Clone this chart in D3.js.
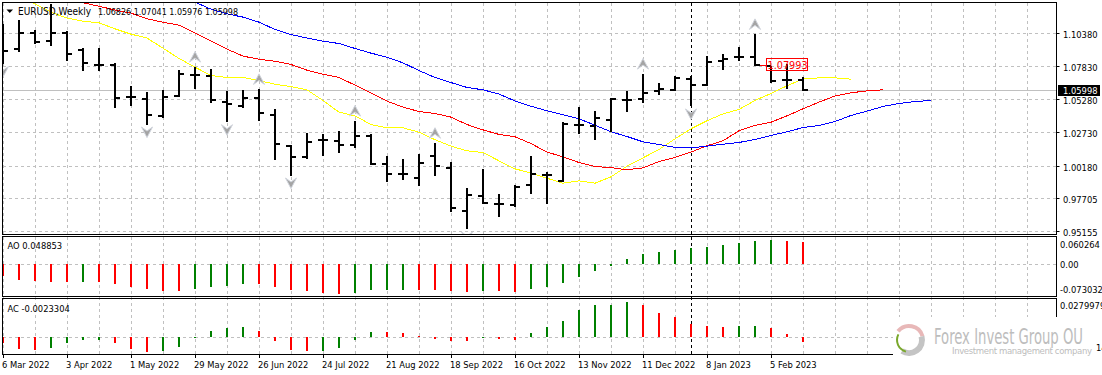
<!DOCTYPE html>
<html>
<head>
<meta charset="utf-8">
<script src="https://cdn.jsdelivr.net/npm/d3@7"></script>
<style>
	html, body { margin:0; padding:0; background:#fff; overflow:hidden; }
	svg { display:block; }
	text { font-family:"DejaVu Sans Condensed", "Liberation Sans", sans-serif; font-size:9.3px; fill:#000; }
</style>
</head>
<body>
<div id="chart"></div>
<script>

const open_ = [1.0984,1.0920,1.1043,1.0984,1.1043,1.0912,1.0794,1.0794,1.0553,1.0535,1.0405,1.0558,1.0720,1.0712,1.0510,1.0477,1.0541,1.0410,1.0175,1.0085,1.0218,1.0213,1.0180,1.0252,1.0034,0.9961,0.9925,1.0095,1.0002,0.9672,0.9787,0.9726,0.9723,0.9872,0.9949,0.9900,1.0331,1.0326,1.0374,1.0523,1.0533,1.0594,1.0607,1.0689,1.0641,1.0825,1.0858,1.0858,1.0786,1.0684,1.0683];
const high = [1.1113,1.1138,1.1066,1.1266,1.1054,1.0927,1.0927,1.0812,1.0638,1.0592,1.0605,1.0758,1.0784,1.0766,1.0597,1.0605,1.0612,1.0459,1.0182,1.0274,1.0262,1.0290,1.0369,1.0267,1.0093,1.0075,1.0113,1.0198,1.0052,0.9851,0.9997,0.9805,0.9874,1.0093,0.9974,1.0356,1.0474,1.0444,1.0541,1.0594,1.0730,1.0656,1.0712,1.0712,1.0863,1.0881,1.0932,1.1035,1.0791,1.0804,1.0704];
const low = [1.0804,1.0894,1.0958,1.0940,1.0830,1.0748,1.0753,1.0464,1.0479,1.0338,1.0387,1.0548,1.0615,1.0505,1.0356,1.0464,1.0364,1.0062,0.9946,1.0070,1.0095,1.0118,1.0157,1.0029,0.9895,0.9910,0.9864,0.9941,0.9664,0.9531,0.9728,0.9626,0.9703,0.9802,0.9726,0.9895,1.0264,1.0221,1.0279,1.0438,1.0505,1.0564,1.0594,1.0477,1.0633,1.0756,1.0825,1.0786,1.0659,1.0610,1.0598];
const close_ = [1.0907,1.1043,1.0976,1.1043,1.0881,1.0809,1.0794,1.0541,1.0553,1.0410,1.0546,1.0728,1.0720,1.0525,1.0495,1.0541,1.0423,1.0185,1.0090,1.0200,1.0218,1.0182,1.0249,1.0034,0.9956,0.9961,1.0041,1.0018,0.9695,0.9795,0.9733,0.9726,0.9856,0.9959,0.9949,1.0341,1.0331,1.0387,1.0533,1.0523,1.0579,1.0610,1.0697,1.0641,1.0817,1.0840,1.0858,1.0794,1.0669,1.0684,1.0600];

// alligator lines, first value belongs to the bar index in *Start
const lipsStart = 1;
const lips = [1.1330,1.1266,1.1202,1.1156,1.1133,1.1120,1.1074,1.1033,1.1003,1.0925,1.0846,1.0779,1.0715,1.0700,1.0700,1.0676,1.0648,1.0630,1.0605,1.0523,1.0433,1.0405,1.0338,1.0313,1.0313,1.0279,1.0221,1.0172,1.0136,1.0123,1.0059,0.9997,0.9966,0.9925,0.9887,0.9905,0.9887,0.9936,1.0018,1.0082,1.0146,1.0228,1.0305,1.0367,1.0420,1.0454,1.0523,1.0577,1.0636,1.0689,1.0697,1.0697,1.0687];
const teethStart = 4;
const teeth = [1.1318,1.1274,1.1248,1.1218,1.1195,1.1151,1.1125,1.1102,1.1043,1.0979,1.0918,1.0864,1.0840,1.0825,1.0800,1.0756,1.0725,1.0700,1.0641,1.0579,1.0518,1.0472,1.0438,1.0423,1.0395,1.0338,1.0297,1.0262,1.0244,1.0192,1.0126,1.0090,1.0046,1.0015,1.0007,0.9990,1.0005,1.0054,1.0085,1.0126,1.0175,1.0213,1.0290,1.0331,1.0356,1.0405,1.0459,1.0510,1.0558,1.0582,1.0597,1.0605];
const jawStart = 12;
const jaw = [1.1279,1.1225,1.1189,1.1164,1.1125,1.1069,1.1030,1.1003,1.0979,1.0961,1.0923,1.0887,1.0856,1.0812,1.0753,1.0700,1.0661,1.0623,1.0605,1.0572,1.0520,1.0479,1.0444,1.0413,1.0382,1.0333,1.0282,1.0246,1.0205,1.0185,1.0162,1.0159,1.0172,1.0187,1.0200,1.0223,1.0254,1.0282,1.0315,1.0331,1.0361,1.0408,1.0441,1.0477,1.0500,1.0515,1.0523];

const fractalUp = [3,12,16,22,27,40,47];
const fractalDown = [0,9,14,18,29,43];

const aoValues = [-0.0351,-0.0458,-0.0488,-0.0517,-0.0517,-0.0517,-0.0517,-0.0575,-0.0663,-0.0722,-0.0780,-0.0780,-0.0722,-0.0663,-0.0634,-0.0575,-0.0575,-0.0663,-0.0751,-0.0780,-0.0839,-0.0868,-0.0839,-0.0751,-0.0751,-0.0751,-0.0751,-0.0751,-0.0780,-0.0809,-0.0780,-0.0780,-0.0809,-0.0722,-0.0663,-0.0546,-0.0371,-0.0195,-0.0049,0.0156,0.0302,0.0361,0.0419,0.0478,0.0507,0.0566,0.0624,0.0683,0.0712,0.0683,0.0653];
const aoUp = [0,0,0,0,0,1,0,0,0,0,0,0,1,1,1,1,0,0,0,0,0,0,1,1,1,1,0,0,0,0,1,0,0,1,1,1,1,1,1,1,1,1,1,1,1,1,1,1,1,0,0];

const acValues = [-0.0052,-0.0101,-0.0110,-0.0092,-0.0049,-0.0023,-0.0023,-0.0049,-0.0101,-0.0127,-0.0118,-0.0084,-0.0006,0.0055,0.0081,0.0089,0.0055,-0.0032,-0.0110,-0.0118,-0.0118,-0.0092,-0.0023,0.0046,0.0046,0.0038,0.0012,-0.0014,-0.0032,-0.0032,-0.0006,-0.0014,-0.0023,0.0038,0.0089,0.0141,0.0237,0.0280,0.0280,0.0306,0.0280,0.0211,0.0176,0.0115,0.0098,0.0089,0.0098,0.0098,0.0081,0.0029,-0.0040];
const acUp = [0,0,0,1,1,1,1,0,0,0,1,1,1,1,1,1,0,0,0,0,1,1,1,1,0,0,0,0,0,0,1,0,0,1,1,1,1,1,1,1,0,0,0,0,0,0,1,1,0,0,0];

const priceTicks = [1.1038,1.0783,1.0528,1.0273,1.0018,0.97705,0.95155];
const priceLabels = ['1.10380','1.07830','1.05280','1.02730','1.00180','0.97705','0.95155'];
const lastPrice = 1.05998;
const markedPrice = 1.07993;
const aoTicks = [0.060264,0,-0.073032];
const aoLabels = ['0.060264','0.00','-0.073032'];
const dateLabels = ['6 Mar 2022','3 Apr 2022','1 May 2022','29 May 2022','26 Jun 2022','24 Jul 2022','21 Aug 2022','18 Sep 2022','16 Oct 2022','13 Nov 2022','11 Dec 2022','8 Jan 2023','5 Feb 2023'];

const w = 1102, h = 375;
const frameL = 2.5, frameR = 1056.5;
const GRID = '#c0c0c0', UP = '#008000', DOWN = '#ff0000';

const svg = d3.select('#chart').append('svg')
	.attr('width', w)
	.attr('height', h);

svg.append('defs').append('clipPath').attr('id', 'main-clip')
	.append('rect').attr('x', 3).attr('y', 3).attr('width', 1053).attr('height', 231);

const scaleX = d3.scaleLinear().domain([0,50]).range([3,803]);
const scaleY = d3.scaleLinear().domain([0.95155,1.1038]).range([231.5,33.5]);
const scaleAO = d3.scaleLinear().domain([-0.073032,0.060264]).range([289.3,243.7]);
const scaleAC = d3.scaleLinear().domain([0,0.0279979]).range([337.3,305]);

////////////////////////////////////////////////////////////////////
// grid

const grid = svg.append('g').attr('class', 'grid')
	.attr('stroke', GRID)
	.attr('stroke-dasharray', '3,3')
	.attr('fill', 'none');

grid.selectAll('.v')
	.data(d3.range(0, 65, 2))
	.enter().append('line')
	.attr('class', 'v')
	.attr('x1', d => scaleX(d) + 0.5)
	.attr('x2', d => scaleX(d) + 0.5)
	.attr('y1', 3)
	.attr('y2', 354);

grid.selectAll('.h')
	.data(priceTicks)
	.enter().append('line')
	.attr('class', 'h')
	.attr('x1', 3)
	.attr('x2', frameR)
	.attr('y1', d => Math.floor(scaleY(d)) + 0.5)
	.attr('y2', d => Math.floor(scaleY(d)) + 0.5);

grid.append('line')
	.attr('x1', 3).attr('x2', frameR)
	.attr('y1', 264.5).attr('y2', 264.5);

grid.append('line')
	.attr('x1', 3).attr('x2', frameR)
	.attr('y1', 337.5).attr('y2', 337.5);

// last price line
svg.append('line')
	.attr('x1', 3).attr('x2', frameR)
	.attr('y1', Math.floor(scaleY(lastPrice)) + 0.5)
	.attr('y2', Math.floor(scaleY(lastPrice)) + 0.5)
	.attr('stroke', GRID);

// crosshair
svg.append('line')
	.attr('x1', scaleX(43) + 0.5).attr('x2', scaleX(43) + 0.5)
	.attr('y1', 3).attr('y2', 354)
	.attr('stroke', '#000')
	.attr('stroke-dasharray', '3,3');

////////////////////////////////////////////////////////////////////
// main panel

const plot = svg.append('g').attr('clip-path', 'url(#main-clip)');

const line = start => d3.line()
	.x((d, i) => scaleX(i + start))
	.y(d => scaleY(d));

[[lips, lipsStart, '#ffff00'], [teeth, teethStart, '#ff0000'], [jaw, jawStart, '#0000ff']].forEach(s => {
	plot.append('path')
		.attr('d', line(s[1])(s[0]))
		.attr('fill', 'none')
		.attr('stroke', s[2])
		.attr('stroke-width', 1)
		.attr('shape-rendering', 'crispEdges');
});

const py = v => Math.round(scaleY(v));

plot.selectAll('.bar')
	.data(d3.range(close_.length))
	.enter().append('path')
	.attr('class', 'bar')
	.attr('fill', 'none')
	.attr('stroke', '#000')
	.attr('stroke-width', 2)
	.attr('shape-rendering', 'crispEdges')
	.attr('d', i => {
		const x = scaleX(i);
		return `M${x},${py(high[i])}V${py(low[i])}` +
			`M${x - 5},${py(open_[i])}H${x}` +
			`M${x},${py(close_[i])}H${x + 5}`;
	});

// fractal arrows
plot.selectAll('.fractal-up')
	.data(fractalUp)
	.enter().append('path')
	.attr('class', 'fractal-up')
	.attr('transform', i => `translate(${scaleX(i)},${scaleY(high[i]) - 9.5})`)
	.attr('d', 'M0,-5.5L5.5,5L0,1L-5.5,5Z')
	.attr('fill', '#a4a4a4')
	.attr('stroke', '#d0d4dc')
	.attr('stroke-width', 1);

plot.selectAll('.fractal-down')
	.data(fractalDown)
	.enter().append('path')
	.attr('class', 'fractal-down')
	.attr('transform', i => `translate(${scaleX(i)},${scaleY(low[i]) + 7.5})`)
	.attr('d', 'M0,5.5L5.5,-5L0,-1L-5.5,-5Z')
	.attr('fill', '#a4a4a4')
	.attr('stroke', '#d0d4dc')
	.attr('stroke-width', 1);

// marked price
const markY = py(markedPrice);
svg.append('line')
	.attr('x1', 760).attr('x2', 767)
	.attr('y1', markY + 0.5).attr('y2', markY + 0.5)
	.attr('stroke', '#ff0000');
svg.append('rect')
	.attr('x', 766.5).attr('y', markY - 6.5)
	.attr('width', 41).attr('height', 12)
	.attr('fill', 'none')
	.attr('stroke', '#ff0000');
svg.append('text')
	.attr('x', 767.5).attr('y', markY + 3.5)
	.style('fill', '#ff0000')
	.style('font-size', '10.8px')
	.text(markedPrice.toFixed(5));

// legend
svg.append('path').attr('d', 'M6.5,9.5H13L9.75,13Z').attr('fill', '#000');
svg.append('text').attr('x', 18).attr('y', 14.5)
	.style('font-size', '10px')
	.attr('textLength', 73)
	.attr('lengthAdjust', 'spacingAndGlyphs')
	.text('EURUSD,Weekly');
svg.append('text').attr('x', 98).attr('y', 14.5)
	.attr('textLength', 140)
	.attr('lengthAdjust', 'spacingAndGlyphs')
	.text('1.06826 1.07041 1.05976 1.05998');

////////////////////////////////////////////////////////////////////
// oscillators

svg.selectAll('.ao')
	.data(aoValues)
	.enter().append('line')
	.attr('class', 'ao')
	.attr('x1', (d, i) => scaleX(i)).attr('x2', (d, i) => scaleX(i))
	.attr('y1', scaleAO(0))
	.attr('y2', d => scaleAO(d))
	.attr('stroke', (d, i) => aoUp[i] ? UP : DOWN)
	.attr('stroke-width', 2)
	.attr('shape-rendering', 'crispEdges');

svg.selectAll('.ac')
	.data(acValues)
	.enter().append('line')
	.attr('class', 'ac')
	.attr('x1', (d, i) => scaleX(i)).attr('x2', (d, i) => scaleX(i))
	.attr('y1', scaleAC(0))
	.attr('y2', d => scaleAC(d))
	.attr('stroke', (d, i) => acUp[i] ? UP : DOWN)
	.attr('stroke-width', 2)
	.attr('shape-rendering', 'crispEdges');

svg.append('text').attr('x', 7.5).attr('y', 249).text('AO 0.048853');
svg.append('text').attr('x', 7.5).attr('y', 311.5).text('AC -0.0023304');

////////////////////////////////////////////////////////////////////
// frames

const frames = [[2,234],[236,296],[298,354]];
svg.selectAll('.frame')
	.data(frames)
	.enter().append('rect')
	.attr('class', 'frame')
	.attr('x', frameL)
	.attr('y', d => d[0] + 0.5)
	.attr('width', frameR - frameL)
	.attr('height', d => d[1] - d[0])
	.attr('fill', 'none')
	.attr('stroke', '#000');

// right axis
const axisPrice = svg.append('g').attr('class', 'axis-price');
priceTicks.forEach((p, i) => {
	const y = Math.floor(scaleY(p)) + 0.5;
	axisPrice.append('line')
		.attr('x1', frameR).attr('x2', frameR + 3)
		.attr('y1', y).attr('y2', y)
		.attr('stroke', '#000');
	axisPrice.append('text')
		.attr('x', 1063).attr('y', y + 4)
		.text(priceLabels[i]);
});

const lastY = Math.floor(scaleY(lastPrice));
svg.append('rect')
	.attr('x', 1058).attr('y', lastY - 5)
	.attr('width', 42).attr('height', 11)
	.attr('fill', '#000');
svg.append('text')
	.attr('x', 1063).attr('y', lastY + 4)
	.style('fill', '#fff')
	.text(lastPrice.toFixed(5));

aoTicks.forEach((v, i) => {
	svg.append('text')
		.attr('x', 1060).attr('y', scaleAO(v) + 4)
		.text(aoLabels[i]);
});

svg.append('text').attr('x', 1060).attr('y', scaleAC(0.0279979) + 4).text('0.0279979');

// time axis
svg.selectAll('.date-tick')
	.data(dateLabels)
	.enter().append('line')
	.attr('class', 'date-tick')
	.attr('x1', (d, i) => scaleX(i * 4) + 0.5)
	.attr('x2', (d, i) => scaleX(i * 4) + 0.5)
	.attr('y1', 354).attr('y2', 358)
	.attr('stroke', '#000');

svg.selectAll('.date-label')
	.data(dateLabels)
	.enter().append('text')
	.attr('class', 'date-label')
	.attr('x', (d, i) => scaleX(i * 4) - 1)
	.attr('y', 367.5)
	.text(d => d);

////////////////////////////////////////////////////////////////////
// watermark sits on a white box over the corner

const mark = svg.append('g').attr('class', 'watermark');

mark.append('rect')
	.attr('x', 893).attr('y', 317)
	.attr('width', 203).attr('height', 58)
	.attr('fill', '#fff');

const ringPart = (r0, r1, a0, a1, col) => mark.append('path')
	.attr('transform', 'translate(909,340)')
	.attr('d', d3.arc().innerRadius(r0).outerRadius(r1)({startAngle:a0, endAngle:a1}))
	.attr('fill', col);

ringPart(12, 16, -0.9, 1.3, '#e8b8b8');
ringPart(10, 16, 1.3, 3.7, '#c4c4c4');
ringPart(11, 13, 3.4, 5.2, '#7aa82c');

mark.append('text')
	.attr('x', 934).attr('y', 344)
	.style('font-size', '21px')
	.style('fill', '#bdbdbd')
	.attr('textLength', 149)
	.attr('lengthAdjust', 'spacingAndGlyphs')
	.text('Forex Invest Group OU');

mark.append('text')
	.attr('x', 952).attr('y', 353.5)
	.style('font-size', '9.5px')
	.style('fill', '#bdbdbd')
	.attr('textLength', 140)
	.text('Investment management company');

svg.append('text').attr('x', 1096).attr('y', 351).text('14');

</script>
</body>
</html>
